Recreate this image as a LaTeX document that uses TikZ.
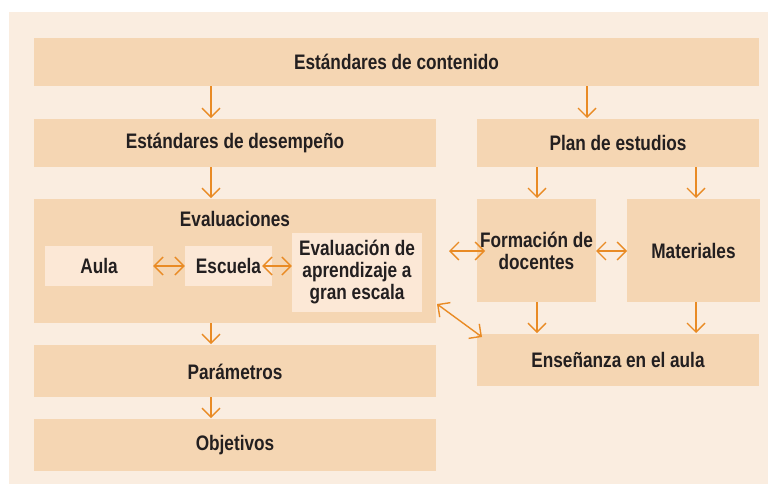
\documentclass[tikz,border=0pt]{standalone}
\usepackage{fontspec}
\setmainfont[FakeStretch=0.82]{Liberation Sans}
\usetikzlibrary{arrows.meta}
\definecolor{bgout}{HTML}{FAEDE0}
\definecolor{boxc}{HTML}{F5D6B3}
\definecolor{inner}{HTML}{FCE8D6}
\definecolor{arr}{HTML}{E98B25}
\definecolor{txt}{HTML}{231F20}
\tikzset{
  ibox/.style={fill=inner, draw=none, inner sep=0pt, font=\bfseries\fontsize{21}{22}\selectfont, text=txt, align=center},
  lbl/.style={font=\bfseries\fontsize{21}{22}\selectfont, text=txt, align=center, inner sep=0pt},
  arw/.style={draw=arr, line width=1.4pt, -{Straight Barb[length=9pt,width=18pt]}},
  darw/.style={draw=arr, line width=1.4pt, {Straight Barb[length=9pt,width=18pt]}-{Straight Barb[length=9pt,width=18pt]}}
}
\begin{document}
\begin{tikzpicture}[x=1pt,y=-1pt]
\useasboundingbox (0,0) rectangle (777,485);
\fill[white] (0,0) rectangle (777,485);
\fill[bgout] (9,12) rectangle (768,484);
% boxes
\fill[boxc] (34,38) rectangle (759,86);
\node[lbl] (cont) at (396.5,62) {Estándares de contenido};
\fill[boxc] (34,119) rectangle (436,167);
\node[lbl] (desem) at (235,143) {Estándares de desempeño};
\fill[boxc] (477,119) rectangle (759,167);
\node[lbl] (plan) at (618,143) {Plan de estudios};
\fill[boxc] (34,199) rectangle (436,323);
\node[lbl] (evalt) at (235,219) {Evaluaciones};
\node[ibox, minimum width=108pt, minimum height=40pt] (aula) at (99,266) {Aula};
\node[ibox, minimum width=87pt, minimum height=40pt] (escuela) at (228.5,266) {Escuela};
\node[ibox, minimum width=130pt, minimum height=79pt] (gran) at (357,272.5) {Evaluación de\\aprendizaje a\\gran escala};
\fill[boxc] (477,199) rectangle (596,302);
\node[lbl] (form) at (536.5,251) {Formación de\\docentes};
\fill[boxc] (627,199) rectangle (760,302);
\node[lbl] (mat) at (693.5,251) {Materiales};
\fill[boxc] (477,334) rectangle (759,386);
\node[lbl] (ens) at (618,360) {Enseñanza en el aula};
\fill[boxc] (34,345) rectangle (436,397);
\node[lbl] (param) at (235,372) {Parámetros};
\fill[boxc] (34,419) rectangle (436,471);
\node[lbl] (obj) at (235,445) {Objetivos};
% arrows
\draw[arw] (211,86) -- (211,118);
\draw[arw] (587,86) -- (587,118);
\draw[arw] (211,167) -- (211,198);
\draw[arw] (537,167) -- (537,198);
\draw[arw] (696,167) -- (696,198);
\draw[arw] (211,323) -- (211,344);
\draw[arw] (211,397) -- (211,418);
\draw[arw] (537,302) -- (537,333);
\draw[arw] (696,302) -- (696,333);
\draw[darw] (aula.east) -- (escuela.west);
\draw[darw] ([xshift=-10pt]escuela.east) -- (gran.west |- escuela.east);
\draw[darw] (449,251) -- (485,251);
\draw[darw] (596,251) -- (627,251);
\draw[darw] (437,304) -- (482,337);
\end{tikzpicture}
\end{document}
